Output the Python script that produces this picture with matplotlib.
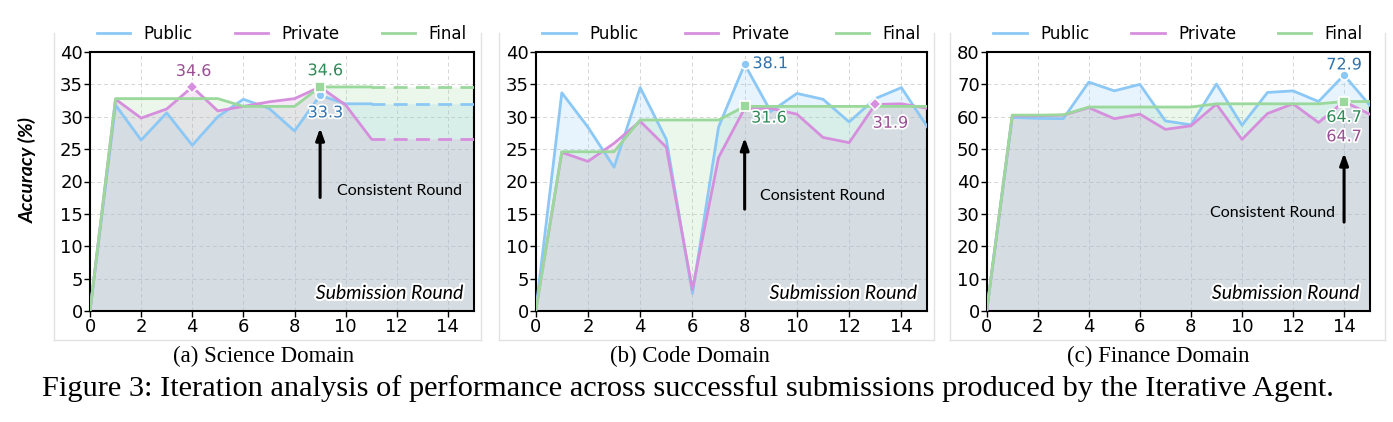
import matplotlib
matplotlib.use("Agg")
import matplotlib.pyplot as plt
import matplotlib.patheffects as pe
from matplotlib.lines import Line2D

# ---- data ----
sci_rounds = list(range(12))
sci_public = [0, 31.8, 26.4, 30.6, 25.6, 30.0, 32.7, 31.3, 27.8, 33.3, 32.0, 32.0]
sci_private = [0, 32.7, 29.8, 31.2, 34.6, 30.9, 31.6, 32.3, 32.8, 34.6, 31.8, 26.6]
sci_final = [0, 32.8, 32.8, 32.8, 32.8, 32.8, 31.6, 31.6, 31.6, 34.6, 34.6, 34.6]

code_rounds = list(range(16))
code_public = [0, 33.7, 28.4, 22.2, 34.5, 26.5, 2.7, 28.4, 38.1, 30.8, 33.6, 32.7, 29.2, 32.8, 34.5, 28.4]
code_private = [0, 24.5, 23.1, 25.9, 29.3, 25.3, 3.3, 23.7, 31.3, 31.3, 30.4, 26.8, 26.0, 31.9, 32.0, 31.3]
code_final = [0, 24.6, 24.6, 24.6, 29.5, 29.5, 29.5, 29.5, 31.6, 31.6, 31.6, 31.6, 31.6, 31.6, 31.6, 31.6]

fin_rounds = list(range(16))
fin_public = [0, 59.8, 59.5, 59.4, 70.7, 68.0, 70.0, 58.7, 57.5, 70.1, 57.4, 67.5, 68.0, 64.7, 72.9, 63.6]
fin_private = [0, 60.3, 60.3, 60.5, 62.8, 59.4, 60.8, 56.1, 57.2, 63.9, 53.0, 61.0, 64.0, 58.2, 64.7, 60.8]
fin_final = [0, 60.5, 60.5, 60.6, 63.0, 63.0, 63.0, 63.0, 63.0, 64.0, 64.0, 64.0, 64.0, 64.0, 64.7, 64.7]

SERIES = ["Public", "Private", "Final"]
COLORS = {"Public": "#8cc8f5", "Private": "#d68fdd", "Final": "#9bd89b"}
TEXT_COLORS = {"Public": "#2f72ad", "Private": "#9a4f94", "Final": "#2e8a55"}
MARKERS = {"Public": "o", "Private": "D", "Final": "s"}

X_MAX = 15
HAND = "Lato"


def draw_panel(ax, rounds, data, ymax, ystep, highlights, arrow, note):
    """data: dict series -> values. highlights: list of (series, round, dx, dy, ha)."""
    last = rounds[-1]
    for name in SERIES:
        vals = data[name]
        xs = list(rounds)
        ys = list(vals)
        if last < X_MAX:
            xs = xs + [X_MAX]
            ys = ys + [vals[-1]]
        ax.fill_between(xs, 0, ys, color=COLORS[name], alpha=0.2, lw=0, zorder=1)
        ax.plot(rounds, vals, color=COLORS[name], lw=2, zorder=3, label=name)
        if last < X_MAX:
            ax.plot([last, X_MAX], [vals[-1], vals[-1]], color=COLORS[name],
                    lw=2, ls=(0, (5, 3)), zorder=3)

    for name, r, dx, dy, ha in highlights:
        v = data[name][r]
        ax.plot(r, v, marker=MARKERS[name], color=COLORS[name], ms=6.5,
                mec="white", mew=1.2, zorder=5 if name != "Final" else 6)
        ax.text(r + dx, v + dy, f"{v:.1f}", color=TEXT_COLORS[name], fontsize=11.5,
                ha=ha, va="center", zorder=7,
                path_effects=[pe.withStroke(linewidth=2.5, foreground="white")])

    ax_x, y0, y1 = arrow
    ax.annotate("", xy=(ax_x, y1), xytext=(ax_x, y0),
                arrowprops=dict(arrowstyle="-|>,head_width=0.25,head_length=0.7",
                                color="black", lw=2.2), zorder=8)
    tx, ty, tha = note
    ax.text(tx, ty, "Consistent Round", fontsize=11.5, family=HAND,
            ha=tha, va="center", zorder=8)
    ax.text(0.975, 0.068, "Submission Round", transform=ax.transAxes,
            fontsize=14, family=HAND, style="italic", ha="right", va="center",
            zorder=8, path_effects=[pe.withStroke(linewidth=3, foreground="white")])

    ax.set_xlim(0, X_MAX)
    ax.set_ylim(0, ymax)
    ax.set_xticks(range(0, X_MAX, 2))
    ax.set_yticks(range(0, ymax + 1, ystep))
    ax.tick_params(labelsize=13, length=4, width=1, pad=1)
    ax.grid(True, ls=(0, (4, 3)), color="#d5d5d5", lw=0.7, zorder=0)
    ax.set_axisbelow(True)
    for s in ax.spines.values():
        s.set_linewidth(1.5)
        s.set_color("black")
    ax.legend(loc="lower left", bbox_to_anchor=(0.0, 1.01, 1.0, 0.15), mode="expand",
              ncol=3, frameon=False, fontsize=12, handlelength=2.0,
              borderaxespad=0.0)


fig = plt.figure(figsize=(13.93, 4.22), dpi=100)
W, H = 1393, 422


def px_axes(left, right, top=52, bottom=311):
    return fig.add_axes([left / W, 1 - bottom / H, (right - left) / W, (bottom - top) / H])


# light frames around each sub-figure
for l, r in [(54, 481), (499, 934), (950, 1385)]:
    for xs, ys in [([l, l], [33, 340]), ([r, r], [33, 340]), ([l, r], [340, 340])]:
        fig.add_artist(Line2D([x / W for x in xs], [1 - y / H for y in ys],
                              color="#e2e2e2", lw=1.0))

ax_a = px_axes(90, 473.5)
draw_panel(ax_a, sci_rounds,
           {"Public": sci_public, "Private": sci_private, "Final": sci_final},
           40, 5,
           [("Private", 4, 0.05, 2.4, "center"),
            ("Public", 9, 0.2, -2.7, "center"),
            ("Final", 9, 0.2, 2.5, "center")],
           (9, 17.1, 28.7), (9.65, 18.5, "left"))

ax_b = px_axes(535.7, 927.5)
draw_panel(ax_b, code_rounds,
           {"Public": code_public, "Private": code_private, "Final": code_final},
           40, 5,
           [("Public", 8, 0.3, 0.1, "left"),
            ("Final", 8, 0.25, -1.8, "left"),
            ("Private", 13, -0.1, -2.9, "left")],
           (8, 15.3, 27.2), (8.58, 17.8, "left"))

ax_c = px_axes(986.7, 1369.6)
draw_panel(ax_c, fin_rounds,
           {"Public": fin_public, "Private": fin_private, "Final": fin_final},
           80, 10,
           [("Public", 14, 0.0, 3.1, "center"),
            ("Private", 14, 0.0, -10.9, "center"),
            ("Final", 14, 0.0, -4.9, "center")],
           (14, 26.6, 49.7), (13.66, 30.2, "right"))

fig.text(28 / W, 1 - 170 / H, "Accuracy (%)", rotation=90, ha="center", va="center",
         fontsize=14, family=HAND, weight="bold", style="italic")

SERIF = "Liberation Serif"
fig.text(264 / W, 1 - 356 / H, "(a) Science Domain", ha="center", va="center",
         fontsize=16.5, family=SERIF)
fig.text(690 / W, 1 - 356 / H, "(b) Code Domain", ha="center", va="center",
         fontsize=16.5, family=SERIF)
fig.text(1158 / W, 1 - 356 / H, "(c) Finance Domain", ha="center", va="center",
         fontsize=16.5, family=SERIF)
fig.text(688 / W, 1 - 389 / H,
         "Figure 3: Iteration analysis of performance across successful submissions "
         "produced by the Iterative Agent.",
         ha="center", va="center", fontsize=21.9, family=SERIF)

fig.savefig("out.png", dpi=100)
